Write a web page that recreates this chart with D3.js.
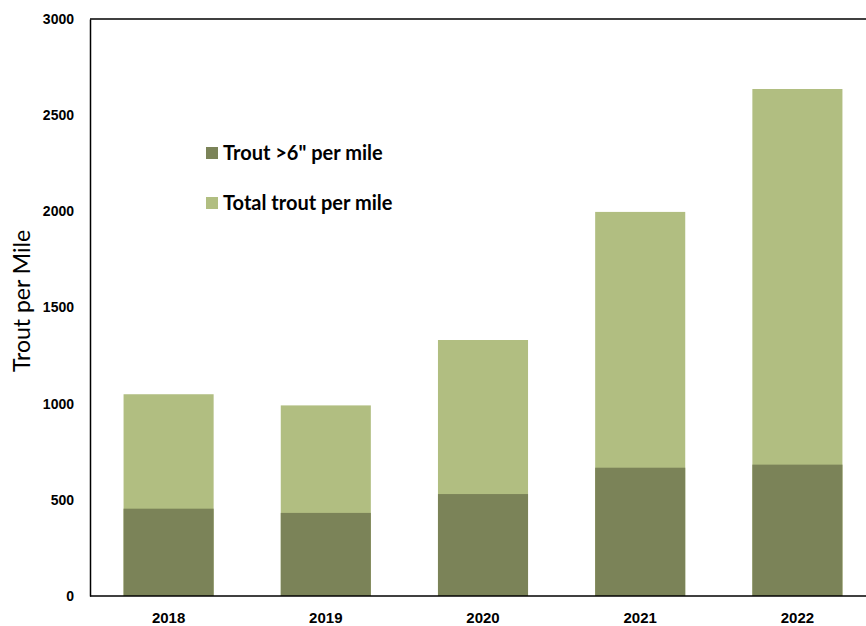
<!DOCTYPE html>
<html>
<head>
<meta charset="utf-8">
<script src="https://cdn.jsdelivr.net/npm/d3@7"></script>
<style>
  body { margin: 0; background: #fff; }
  svg { font-family: Lato, "Open Sans", sans-serif; }
</style>
</head>
<body>
<svg id="chart"></svg>
<script>
const years = ["2018", "2019", "2020", "2021", "2022"];
const totalTrout = [1049, 991, 1331, 1997, 2636];
const largeTrout = [454, 432, 530, 667, 683];
const yTicks = [0, 500, 1000, 1500, 2000, 2500, 3000];
const seriesNames = ["Trout >6\" per mile", "Total trout per mile"];
const seriesColors = ["#7b8358", "#b1be81"];

const width = 866, height = 626;
const marginLeft = 90, marginTop = 19, marginBottom = 30;

const svg = d3.select("#chart")
  .attr("width", width)
  .attr("height", height);

const x = d3.scaleBand()
  .domain(years)
  .range([marginLeft, 876])
  .paddingInner(0.427)
  .paddingOuter(0.2135);

const y = d3.scaleLinear()
  .domain([0, 3000])
  .range([height - marginBottom, marginTop]);

// 总数柱
svg.append("g")
  .attr("fill", seriesColors[1])
  .selectAll("rect")
  .data(years)
  .join("rect")
  .attr("x", d => x(d))
  .attr("y", (d, i) => y(totalTrout[i]))
  .attr("width", x.bandwidth())
  .attr("height", (d, i) => y(0) - y(totalTrout[i]));

// >6" 柱 叠在上面
svg.append("g")
  .attr("fill", seriesColors[0])
  .selectAll("rect")
  .data(years)
  .join("rect")
  .attr("x", d => x(d))
  .attr("y", (d, i) => y(largeTrout[i]))
  .attr("width", x.bandwidth())
  .attr("height", (d, i) => y(0) - y(largeTrout[i]));

// y轴
svg.append("g")
  .attr("transform", `translate(${marginLeft},0)`)
  .call(d3.axisLeft(y).tickValues(yTicks).tickSize(0).tickPadding(16).tickFormat(d3.format("d")))
  .call(g => g.select(".domain").attr("stroke", "#000").attr("stroke-width", 1.5))
  .call(g => g.selectAll("text")
    .attr("font-size", 14)
    .attr("font-weight", "bold")
    .attr("fill", "#000"));

// x轴
svg.append("g")
  .attr("transform", `translate(0,${height - marginBottom})`)
  .call(d3.axisBottom(x).tickSize(0).tickPadding(16))
  .call(g => g.select(".domain")
    .attr("d", `M${marginLeft},0H${width}`)
    .attr("stroke", "#000").attr("stroke-width", 1.5))
  .call(g => g.selectAll("text")
    .attr("font-size", 15)
    .attr("font-weight", "bold")
    .attr("fill", "#000"));

// 顶部边线
svg.append("line")
  .attr("x1", marginLeft)
  .attr("x2", width)
  .attr("y1", marginTop)
  .attr("y2", marginTop)
  .attr("stroke", "#000")
  .attr("stroke-width", 1.5);

// y轴标题
svg.append("text")
  .attr("transform", "translate(30,301) rotate(-90)")
  .attr("text-anchor", "middle")
  .attr("font-size", 23)
  .attr("fill", "#000")
  .text("Trout per Mile");

// 图例
const legend = svg.append("g")
  .attr("transform", "translate(206,147)");

const entries = legend.selectAll("g")
  .data(seriesNames)
  .join("g")
  .attr("transform", (d, i) => `translate(0,${i * 50})`);

entries.append("rect")
  .attr("width", 12)
  .attr("height", 12)
  .attr("fill", (d, i) => seriesColors[i]);

entries.append("text")
  .attr("x", 17)
  .attr("y", 6)
  .attr("dy", "0.36em")
  .attr("font-size", 20)
  .attr("font-weight", "bold")
  .attr("fill", "#000")
  .text(d => d);
</script>
</body>
</html>
